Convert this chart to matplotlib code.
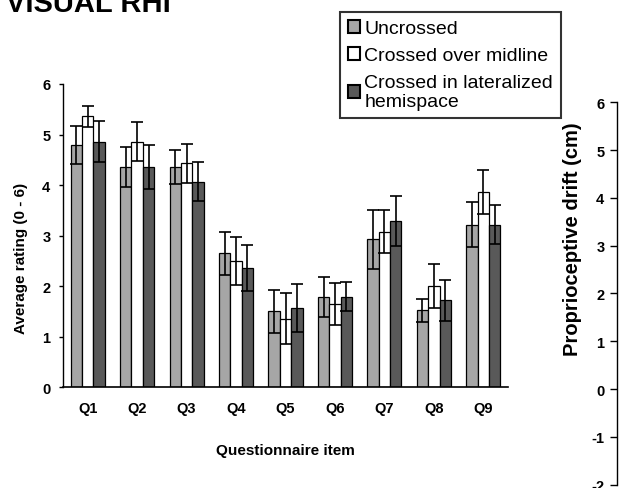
import numpy as np
import matplotlib.pyplot as plt
from matplotlib.patches import Patch

plt.rcParams['font.family'] = ['Liberation Sans', 'DejaVu Sans']
plt.rcParams['axes.unicode_minus'] = False

#%% data

items = ['Q1', 'Q2', 'Q3', 'Q4', 'Q5', 'Q6', 'Q7', 'Q8', 'Q9']
conditions = ['Uncrossed', 'Crossed over midline', 'Crossed in lateralized\nhemispace']

uncrossed = [4.79, 4.36, 4.36, 2.65, 1.50, 1.79, 2.93, 1.52, 3.22]
uncrossed_err = [0.37, 0.39, 0.34, 0.43, 0.43, 0.40, 0.58, 0.23, 0.45]

crossed_midline = [5.36, 4.86, 4.43, 2.50, 1.36, 1.65, 3.08, 2.00, 3.86]
crossed_midline_err = [0.21, 0.39, 0.38, 0.48, 0.51, 0.41, 0.43, 0.44, 0.43]

crossed_lateral = [4.86, 4.36, 4.07, 2.36, 1.57, 1.79, 3.29, 1.72, 3.22]
crossed_lateral_err = [0.41, 0.43, 0.38, 0.45, 0.48, 0.29, 0.49, 0.40, 0.39]

colors = ['#a6a6a6', '#ffffff', '#595959']

#%% figure

W, H = 619, 489
fig = plt.figure(figsize=(W / 100, H / 100), dpi=100)

ax = fig.add_axes([63 / W, 1 - 388.3 / H, 445 / W, (388.3 - 85) / H])

x = np.arange(len(items))
bw = 0.23
series = [(uncrossed, uncrossed_err), (crossed_midline, crossed_midline_err),
          (crossed_lateral, crossed_lateral_err)]

for k, (vals, errs) in enumerate(series):
    ax.bar(x + (k - 1) * bw, vals, bw, yerr=errs, color=colors[k],
           edgecolor='black', linewidth=0.9,
           error_kw=dict(ecolor='black', elinewidth=1.2, capsize=4.5, capthick=1.2))

ax.set_xlim(-0.5, 8.5)
ax.set_ylim(0, 6)
ax.set_xticks(x)
ax.set_xticklabels(items)
ax.set_yticks(range(0, 7))
ax.tick_params(axis='x', length=0, pad=10, labelsize=10.5)
ax.tick_params(axis='y', direction='out', length=3, width=1, pad=6, labelsize=10.5)
for lab in ax.get_xticklabels() + ax.get_yticklabels():
    lab.set_fontweight('bold')

for s in ['top', 'right']:
    ax.spines[s].set_visible(False)
ax.spines['left'].set_linewidth(1)
ax.spines['bottom'].set_linewidth(1.2)

ax.set_xlabel('Questionnaire item', fontsize=11, fontweight='bold', va='center')
ax.xaxis.set_label_coords(0.5, (388.3 - 451) / 303.3)
ax.set_ylabel('Average rating (0 - 6)', fontsize=11, fontweight='bold', va='center')
ax.yaxis.set_label_coords((21 - 63) / 445, (388.3 - 258) / 303.3)

# second panel's axis, mostly off the right edge
ax2 = fig.add_axes([617 / W, 1 - 485.6 / H, 0.1, (485.6 - 103.3) / H])
ax2.set_ylim(-2, 6)
ax2.set_yticks(range(-2, 7))
ax2.set_xticks([])
for s in ['top', 'right', 'bottom']:
    ax2.spines[s].set_visible(False)
ax2.spines['left'].set_linewidth(1)
ax2.tick_params(axis='y', direction='out', length=5, width=1, pad=4, labelsize=10.5)
for lab in ax2.get_yticklabels():
    lab.set_fontweight('bold')
fig.text(572 / W, 1 - 239 / H, 'Proprioceptive drift (cm)', rotation=90,
         ha='center', va='center', fontsize=14.5, fontweight='bold')

# title
fig.text(6 / W, 1 - 12.3 / H, 'VISUAL RHI', fontsize=21, fontweight='bold',
         ha='left', va='baseline')

# legend
handles = [Patch(facecolor=c, edgecolor='black', linewidth=1.5) for c in colors]
leg = fig.legend(handles, conditions, loc='upper left',
                 bbox_to_anchor=(340 / W, 1 - 13 / H), fontsize=14,
                 frameon=True, fancybox=False, edgecolor='black',
                 handlelength=0.65, handleheight=0.65, handletextpad=0.2,
                 labelspacing=0.5, borderpad=0.4, borderaxespad=0)
leg.get_frame().set_linewidth(1.5)

plt.savefig('out.png', dpi=100)
